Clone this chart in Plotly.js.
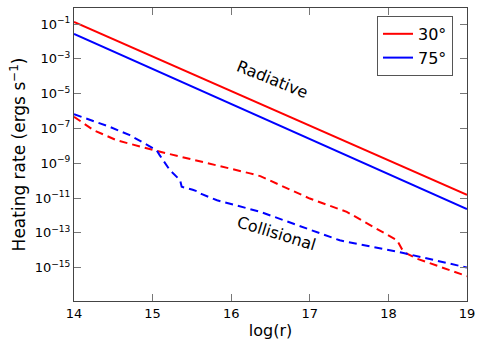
<!DOCTYPE html>
<html>
<head>
<meta charset="utf-8">
<script src="https://cdn.plot.ly/plotly-3.0.1.min.js"></script>
<style>
  html, body { margin: 0; padding: 0; background: #fff; }
  #chart { width: 484px; height: 347px; }
</style>
</head>
<body>
<div id="chart"></div>
<script>
// --- data ---
const radX = [14, 19];
const rad30 = [1.3e-1, 1.5e-11];
const rad75 = [2.7e-2, 2.3e-12];

const col30X = [14.0, 14.25, 14.54, 14.84, 15.05, 16.24, 16.37, 17.0, 17.47, 18.11, 18.17, 18.23, 18.36, 19.0];
const col30Y = [4.7e-7, 7.9e-8, 2.1e-8, 8.7e-9, 5.1e-9, 2.6e-10, 1.8e-10, 9.3e-12, 1.6e-12, 3.7e-14, 1.2e-14, 6.5e-15, 3.3e-15, 3.2e-16];

const col75X = [14.0, 14.46, 14.71, 15.05, 15.09, 15.22, 15.35, 15.37, 15.51, 15.58, 15.62, 15.82, 16.37, 17.26, 17.38, 18.19, 19.0];
const col75Y = [6.6e-7, 1.2e-7, 4.1e-8, 5.6e-9, 2.9e-9, 4.0e-10, 1.05e-10, 4.4e-11, 3.0e-11, 2.3e-11, 1.7e-11, 7.4e-12, 1.6e-12, 5.4e-14, 3.7e-14, 6.9e-15, 1.0e-15];

const yTickVals = [1e-1, 1e-3, 1e-5, 1e-7, 1e-9, 1e-11, 1e-13, 1e-15];
const yTickText = ['10<sup>−1</sup>', '10<sup>−3</sup>', '10<sup>−5</sup>', '10<sup>−7</sup>',
                   '10<sup>−9</sup>', '10<sup>−11</sup>', '10<sup>−13</sup>', '10<sup>−15</sup>'];

const RED = '#ff0000';
const BLUE = '#0000ff';

const traces = [
    { x: radX, y: rad30, name: '30°', mode: 'lines', line: { color: RED, width: 2 } },
    { x: radX, y: rad75, name: '75°', mode: 'lines', line: { color: BLUE, width: 2 } },
    { x: col30X, y: col30Y, mode: 'lines', showlegend: false, line: { color: RED, width: 2, dash: '8px,5px' } },
    { x: col75X, y: col75Y, mode: 'lines', showlegend: false, line: { color: BLUE, width: 2, dash: '8px,5px' } }
];

const FONT = 'DejaVu Sans, sans-serif';

const axisCommon = {
    showgrid: false,
    zeroline: false,
    showline: true,
    linecolor: '#444',
    linewidth: 1,
    mirror: 'ticks',
    ticks: 'inside',
    ticklen: 7,
    tickwidth: 1,
    tickcolor: '#777',
    tickfont: { family: FONT, size: 13, color: '#000' }
};

const layout = {
    width: 484,
    height: 347,
    margin: { l: 74, r: 17, t: 8, b: 46 },
    paper_bgcolor: '#fff',
    plot_bgcolor: '#fff',
    font: { family: FONT, color: '#000' },
    xaxis: Object.assign({}, axisCommon, {
        range: [14, 19],
        tickvals: [14, 15, 16, 17, 18, 19],
        ticktext: ['14', '15', '16', '17', '18', '19'],
        title: { text: 'log(r)', font: { family: FONT, size: 16 }, standoff: 5 }
    }),
    yaxis: Object.assign({}, axisCommon, {
        type: 'log',
        range: [-16.92, -0.08],
        tickvals: yTickVals,
        ticktext: yTickText,
        title: { text: 'Heating rate (ergs s<sup>−1</sup>)', font: { family: FONT, size: 17 }, standoff: 4 }
    }),
    legend: {
        x: 0.771, y: 0.973, xanchor: 'left', yanchor: 'top',
        bgcolor: '#fff', bordercolor: '#555', borderwidth: 1,
        font: { family: FONT, size: 16 },
        itemwidth: 30,
        tracegroupgap: 0
    },
    annotations: [
        { text: 'Radiative', x: 16.53, y: -4.17, xref: 'x', yref: 'y', showarrow: false,
          textangle: 22, font: { family: FONT, size: 16, color: '#000' } },
        { text: 'Collisional', x: 16.58, y: -13.03, xref: 'x', yref: 'y', showarrow: false,
          textangle: 17, font: { family: FONT, size: 16, color: '#000' } }
    ]
};

Plotly.newPlot('chart', traces, layout, { staticPlot: true, displayModeBar: false });
</script>
</body>
</html>
